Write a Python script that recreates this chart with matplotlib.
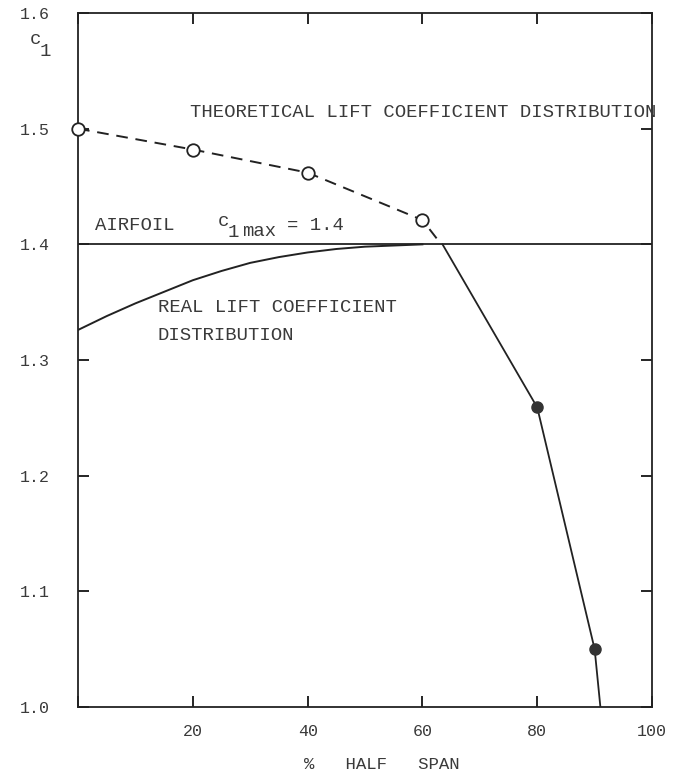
import numpy as np
import matplotlib
matplotlib.use('Agg')
from matplotlib import pyplot as plt

# % half span / c_l
x_teo = [0, 20, 40, 60, 62.5]
cl_teo = [1.50, 1.482, 1.462, 1.421, 1.405]

x_real = [0, 5, 10, 15, 20, 25, 30, 35, 40, 45, 50, 55, 60]
cl_real = [1.326, 1.338, 1.349, 1.359, 1.369, 1.377, 1.384, 1.389, 1.393, 1.396, 1.398, 1.399, 1.400]

x_stall = [63.5, 80, 90, 91]
cl_stall = [1.400, 1.259, 1.050, 1.000]

cl_max = 1.4

xticks = [0, 20, 40, 60, 80, 100]
xtick_lab = ['', '20', '40', '60', '80', '100']
yticks = [1.0, 1.1, 1.2, 1.3, 1.4, 1.5, 1.6]
ytick_lab = ['1.0', '1.1', '1.2', '1.3', '1.4', '1.5', '1.6']

fonte = 'Liberation Mono'
cor_txt = '#3a3a3a'
fs = 13.6

plt.close('all')
fig = plt.figure(figsize=(6.75, 7.76), dpi=100)
ax = fig.add_axes([0.1156, 0.0889, 0.8504, 0.8943])

ax.axhline(cl_max, color='#222222', lw=1.3)
ax.plot(x_real, cl_real, color='#222222', lw=1.4)
ax.plot(x_teo, cl_teo, color='#222222', lw=1.4, ls=(0, (6, 4)),
        marker='o', ms=9, mfc='white', mec='#222222', mew=1.3, markevery=[0, 1, 2, 3],
        clip_on=False, zorder=5)
ax.plot(x_stall, cl_stall, color='#222222', lw=1.3,
        marker='o', ms=8, mfc='#333333', mec='#333333', markevery=[1, 2])

ax.set_xlim(0, 100)
ax.set_ylim(1.0, 1.6)
ax.set_xticks(xticks)
ax.set_xticklabels(xtick_lab)
ax.set_yticks(yticks)
ax.set_yticklabels(ytick_lab)
ax.tick_params(direction='in', length=8, width=1.2, top=True, right=True,
               labelsize=12, labelcolor=cor_txt)
ax.tick_params(axis='y', pad=20)
ax.tick_params(axis='x', pad=12)
for lab in ax.get_xticklabels() + ax.get_yticklabels():
    lab.set_family(fonte)
for s in ax.spines.values():
    s.set_linewidth(1.3)
    s.set_color('#222222')

ax.set_xlabel('%   HALF   SPAN', family=fonte, fontsize=12.5, color=cor_txt)
ax.xaxis.set_label_coords(0.53, -0.072)

# c_1 (eixo y)
fig.text(30/675., 1 - 40/776., 'c', family=fonte, fontsize=fs, color=cor_txt, va='center')
fig.text(40/675., 1 - 52/776., '1', family=fonte, fontsize=fs, color=cor_txt, va='center')

# textos
ax.text(19.5, 1.514, 'THEORETICAL LIFT COEFFICIENT DISTRIBUTION', family=fonte,
        fontsize=fs, color=cor_txt, va='center', clip_on=False)
ax.text(3.0, 1.4167, 'AIRFOIL', family=fonte, fontsize=fs, color=cor_txt, va='center')
ax.text(24.4, 1.420, 'c', family=fonte, fontsize=fs, color=cor_txt, va='center')
ax.text(26.0, 1.410, '1', family=fonte, fontsize=fs, color=cor_txt, va='center')
ax.text(28.5, 1.411, 'max', family=fonte, fontsize=fs, color=cor_txt, va='center')
ax.text(36.4, 1.4167, '= 1.4', family=fonte, fontsize=fs, color=cor_txt, va='center')
ax.text(13.9, 1.345, 'REAL LIFT COEFFICIENT', family=fonte, fontsize=fs, color=cor_txt, va='center')
ax.text(13.9, 1.321, 'DISTRIBUTION', family=fonte, fontsize=fs, color=cor_txt, va='center')

plt.savefig('out.png', dpi=100)
